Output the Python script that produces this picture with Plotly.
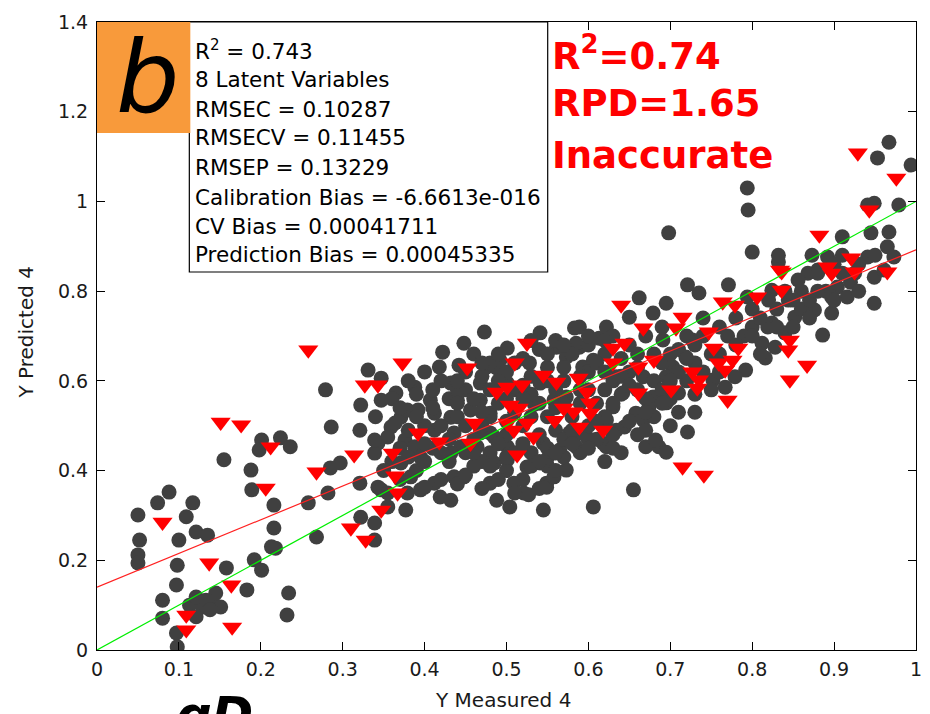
import plotly.graph_objects as go

# ---------------- data ----------------
# calibration samples (dark dots): Y Measured 4, Y Predicted 4
cal_x = [0.050,0.052,0.050,0.050,0.074,0.088,0.100,0.098,0.097,0.080,0.080,0.097,0.098,0.109,0.117,0.121,0.135,0.113,0.129,0.141,0.151,0.145,0.158,0.183,0.192,0.201,0.213,0.216,0.216,0.189,0.188,0.155,0.201,0.198,0.224,0.234,0.232,0.121,0.121,0.133,0.138,
         0.279,0.286,0.322,0.321,0.331,0.347,0.347,0.365,0.371,0.379,0.388,0.359,0.343,0.339,0.236,0.297,0.285,0.282,0.258,0.218,0.268,0.322,0.339,0.339,0.377,0.355,0.321,0.343,0.347,0.395,0.412,
         0.473,0.448,0.422,0.418,0.442,0.501,0.541,0.583,0.561,0.476,0.492,0.528,0.407,0.432,0.440,0.468,0.468,0.456,0.432,0.412,0.392,0.364,0.355,0.339,0.376,0.388,0.412,0.436,0.444,0.432,0.395,0.371,0.383,0.400,0.379,0.436,0.448,0.419,0.464,0.485,0.480,0.468,0.485,0.501,0.480,0.509,0.488,0.521,0.541,0.545,0.558,0.521,0.501,0.534,0.558,0.573,0.573,0.593,0.589,0.541,0.582,0.589,0.573,0.549,0.355,0.432,0.488,
         0.721,0.771,0.662,0.695,0.735,0.794,0.824,0.832,0.589,0.622,0.650,0.679,0.585,0.613,0.691,0.727,0.800,0.824,0.812,0.816,0.792,0.703,0.719,0.634,0.667,0.695,0.642,0.679,0.710,0.752,0.767,0.779,0.630,0.658,0.674,0.695,0.622,0.644,0.667,0.622,0.670,0.686,0.695,0.721,0.577,0.598,0.606,0.828,
         0.967,0.953,0.994,0.794,0.795,0.698,0.800,0.941,0.949,0.979,0.832,0.910,0.873,0.880,0.967,0.945,0.965,0.973,0.941,0.868,0.856,0.949,0.961,0.904,0.916,0.949,0.897,0.876,0.897,0.852,0.886,0.819,0.840,0.892,0.925,0.844,0.655,0.606,0.545,0.504,0.527,0.549,0.549,0.682,
         0.480,0.501,0.525,0.558,0.565,0.585,0.618,0.634,
         0.42,0.45,0.47,0.50,0.52,0.55,0.57,0.60,0.62,0.63,0.44,0.47,0.49,0.51,0.53,0.55,0.57,0.59,0.61,0.64,0.46,0.50,0.52,0.54,0.56,0.58,0.60,0.62,0.65,0.66,0.68,0.69,0.71,0.73,0.74,0.76,0.78,0.80,0.77,0.82,0.84,0.86,0.88,0.90,0.92,0.86,0.40,0.38,0.41,0.43,0.46,0.48,0.50,0.53,0.55,0.57,0.52,0.44,0.47,0.62,0.64,0.66,0.68,0.70,0.72,0.70,0.73,0.75,0.67,0.63,
         0.36,0.38,0.40,0.41,0.43,0.45,0.46,0.48,0.49,0.51,0.53,0.54,0.56,0.58,0.60,0.61,0.63,0.65,0.67,0.69,0.70,0.72,0.74,0.76,0.79,0.81,0.83,0.85,0.87,0.89,0.91,0.93,0.95,0.43,0.45,0.47,0.49,0.51,0.53,0.55,0.57,0.59,0.61,0.63,0.65,0.67,0.69,0.71,0.73,0.62,0.64,0.66,0.59,0.56,0.54,0.52,0.48,0.46,0.44,0.40,0.37,0.36,0.39,0.42,0.45,0.49,0.51,0.54,0.56,
         0.39,0.41,0.42,0.44,0.45,0.47,0.48,0.50,0.50,0.52,0.53,0.55,0.56,0.57,0.58,0.59,0.60,0.61,0.62,0.63,0.64,0.65,0.66,0.67,0.68,0.69,0.70,0.71,0.72,0.73,0.74,0.75,0.76,0.78,0.80,0.81,0.83,0.85,0.87,0.88,0.90,0.91,0.93,0.46,0.48,0.50,0.52,0.54,0.56,0.58,0.60,0.42,0.40,0.44,0.47,0.49,0.51,0.53,0.55,0.57,0.60,0.62,0.39,0.37,0.34,0.35,0.37,0.38]
cal_y = [0.301,0.245,0.212,0.194,0.328,0.352,0.245,0.189,0.145,0.111,0.071,0.038,0.007,0.297,0.328,0.263,0.256,0.100,0.096,0.111,0.096,0.127,0.183,0.134,0.201,0.178,0.230,0.272,0.323,0.357,0.401,0.424,0.468,0.446,0.473,0.127,0.078,0.074,0.118,0.111,0.090,
         0.580,0.497,0.546,0.490,0.624,0.606,0.557,0.573,0.519,0.535,0.586,0.497,0.461,0.439,0.453,0.417,0.406,0.350,0.328,0.227,0.252,0.296,0.283,0.245,0.312,0.319,0.372,0.363,0.357,0.357,0.372,
         0.709,0.684,0.664,0.631,0.635,0.673,0.707,0.718,0.675,0.631,0.646,0.640,0.557,0.595,0.557,0.595,0.557,0.535,0.519,0.528,0.535,0.506,0.475,0.468,0.468,0.453,0.490,0.484,0.453,0.439,0.430,0.417,0.386,0.363,0.350,0.386,0.386,0.341,0.453,0.475,0.528,0.484,0.417,0.424,0.372,0.372,0.334,0.350,0.417,0.461,0.439,0.580,0.595,0.548,0.557,0.564,0.653,0.631,0.675,0.595,0.475,0.446,0.401,0.372,0.350,0.334,0.629,
         0.814,0.814,0.785,0.773,0.796,0.787,0.802,0.865,0.720,0.720,0.742,0.751,0.684,0.695,0.691,0.691,0.720,0.729,0.684,0.651,0.624,0.631,0.653,0.609,0.609,0.609,0.573,0.564,0.573,0.602,0.586,0.609,0.542,0.528,0.542,0.551,0.513,0.497,0.513,0.453,0.453,0.453,0.441,0.486,0.484,0.475,0.646,0.675,
         1.132,1.097,1.081,1.030,0.981,0.930,0.887,0.992,0.996,0.992,0.880,0.921,0.880,0.847,0.932,0.930,0.899,0.876,0.876,0.840,0.825,0.831,0.847,0.809,0.787,0.773,0.787,0.758,0.751,0.742,0.702,0.720,0.707,0.876,0.840,0.780,0.357,0.319,0.312,0.319,0.346,0.363,0.424,0.468,
         0.484,0.453,0.408,0.386,0.446,0.453,0.461,0.490,
         0.60,0.58,0.61,0.62,0.65,0.63,0.60,0.62,0.66,0.60,0.52,0.50,0.55,0.53,0.57,0.52,0.55,0.58,0.55,0.57,0.47,0.48,0.50,0.48,0.49,0.52,0.50,0.52,0.62,0.66,0.60,0.64,0.67,0.64,0.70,0.72,0.74,0.76,0.70,0.78,0.80,0.80,0.84,0.86,0.82,0.76,0.50,0.49,0.45,0.42,0.41,0.44,0.40,0.44,0.41,0.43,0.38,0.37,0.36,0.42,0.44,0.48,0.52,0.56,0.60,0.50,0.53,0.58,0.56,0.48,
         0.56,0.60,0.62,0.58,0.56,0.62,0.66,0.64,0.60,0.58,0.61,0.67,0.69,0.66,0.68,0.64,0.70,0.68,0.70,0.72,0.66,0.70,0.74,0.66,0.70,0.74,0.76,0.72,0.78,0.80,0.84,0.86,0.88,0.47,0.44,0.42,0.46,0.44,0.41,0.45,0.47,0.44,0.47,0.45,0.51,0.53,0.58,0.62,0.57,0.58,0.61,0.58,0.61,0.58,0.55,0.56,0.52,0.56,0.58,0.46,0.45,0.42,0.40,0.38,0.39,0.38,0.35,0.36,0.40,
         0.52,0.54,0.50,0.55,0.50,0.53,0.58,0.56,0.51,0.59,0.52,0.60,0.54,0.63,0.49,0.55,0.58,0.51,0.62,0.55,0.65,0.59,0.63,0.49,0.66,0.55,0.60,0.53,0.65,0.68,0.62,0.66,0.62,0.68,0.70,0.66,0.72,0.78,0.74,0.80,0.78,0.88,0.80,0.44,0.41,0.43,0.46,0.42,0.44,0.46,0.45,0.44,0.42,0.60,0.64,0.66,0.64,0.69,0.66,0.68,0.70,0.69,0.57,0.54,0.52,0.40,0.38,0.43]

# validation samples (red triangles)
val_x = [0.151,0.176,0.212,0.206,0.080,0.137,0.164,0.109,0.109,0.165,
         0.258,0.373,0.327,0.343,0.314,0.268,0.361,0.364,0.367,0.347,0.310,0.328,
         0.525,0.510,0.452,0.545,0.561,0.588,0.488,0.501,0.519,0.504,0.515,0.570,0.582,0.461,0.501,0.525,0.559,0.509,0.533,0.589,0.392,0.418,0.456,0.513,
         0.640,0.715,0.707,0.667,0.764,0.779,0.806,0.834,0.747,0.644,0.630,0.630,0.680,0.661,0.753,0.783,0.759,0.776,0.767,0.727,0.735,0.733,0.598,0.602,0.602,0.618,0.661,0.701,0.770,0.715,0.741,
         0.929,0.976,0.943,0.882,0.892,0.897,0.921,0.925,0.965,0.836,0.836,0.846,0.844,0.867,0.846]
val_y = [0.508,0.502,0.453,0.361,0.285,0.194,0.145,0.078,0.045,0.051,
         0.669,0.640,0.591,0.591,0.435,0.397,0.439,0.388,0.350,0.312,0.272,0.245,
         0.684,0.640,0.629,0.613,0.597,0.606,0.575,0.586,0.591,0.546,0.539,0.539,0.531,0.506,0.506,0.506,0.512,0.490,0.475,0.497,0.484,0.464,0.461,0.435,
         0.769,0.742,0.718,0.718,0.776,0.769,0.787,0.847,0.709,0.684,0.673,0.640,0.646,0.631,0.673,0.673,0.640,0.646,0.624,0.620,0.602,0.584,0.575,0.551,0.528,0.490,0.573,0.580,0.557,0.408,0.390,
         1.108,1.052,0.981,0.925,0.854,0.840,0.874,0.843,0.843,0.843,0.802,0.691,0.669,0.635,0.602]

# reference lines
line_x = [0, 1]
target_y = [0, 1]          # 1:1 line (green)
fit_y = [0.14, 0.892]      # regression fit (red)

x_ticks = [0, 0.1, 0.2, 0.3, 0.4, 0.5, 0.6, 0.7, 0.8, 0.9, 1]
x_labels = ["0", "0.1", "0.2", "0.3", "0.4", "0.5", "0.6", "0.7", "0.8", "0.9", "1"]
y_ticks = [0, 0.2, 0.4, 0.6, 0.8, 1.0, 1.2, 1.4]
y_labels = ["0", "0.2", "0.4", "0.6", "0.8", "1", "1.2", "1.4"]

stats_lines = ["R<sup>2</sup> = 0.743", "8 Latent Variables", "RMSEC = 0.10287",
               "RMSECV = 0.11455", "RMSEP = 0.13229", "Calibration Bias = -6.6613e-016",
               "CV Bias = 0.00041711", "Prediction Bias = 0.00045335"]
red_lines = ["R<sup>2</sup>=0.74", "RPD=1.65", "Inaccurate"]

# ---------------- layout helpers (pixel -> paper) ----------------
L, R, T, B = 97, 922, 22, 650
W, H = 930, 714
def px(xp):
    return (xp - L) / (R - L)
def py(yp):
    return (B - yp) / (B - T)

fig = go.Figure()
fig.add_trace(go.Scatter(x=cal_x, y=cal_y, mode="markers",
                         marker=dict(symbol="circle", size=15, color="#404040", line=dict(width=0)),
                         showlegend=False))
fig.add_trace(go.Scatter(x=val_x, y=val_y, mode="markers",
                         marker=dict(symbol="triangle-down", size=17.5, color="#FF0000", line=dict(width=0)),
                         showlegend=False))
fig.add_trace(go.Scatter(x=line_x, y=target_y, mode="lines",
                         line=dict(color="#00EE00", width=1.2), showlegend=False))
fig.add_trace(go.Scatter(x=line_x, y=fit_y, mode="lines",
                         line=dict(color="#FF2020", width=1.2), showlegend=False))

tickfont = dict(family="DejaVu Sans", size=19, color="#1a1a1a")
fig.update_layout(
    width=W, height=H,
    margin=dict(l=L, r=W - R, t=T, b=H - B),
    paper_bgcolor="white", plot_bgcolor="white",
    xaxis=dict(range=[0, 1], tickvals=x_ticks, ticktext=x_labels, ticks="inside", ticklen=8,
               tickcolor="black", showline=True, linecolor="black", linewidth=1, mirror="ticks",
               showgrid=False, zeroline=False, tickfont=tickfont, ticklabelstandoff=2),
    yaxis=dict(range=[0, 1.4], tickvals=y_ticks, ticktext=y_labels, ticks="inside", ticklen=8,
               tickcolor="black", showline=True, linecolor="black", linewidth=1, mirror="ticks",
               showgrid=False, zeroline=False, tickfont=tickfont, ticklabelstandoff=4),
)

shapes = [
    # stats box
    dict(type="rect", xref="paper", yref="paper", x0=px(190), x1=px(551), y0=py(272), y1=py(22),
         line=dict(color="black", width=1.2), fillcolor="white", layer="above"),
    # orange label box
    dict(type="rect", xref="paper", yref="paper", x0=px(97), x1=px(191), y0=py(133), y1=py(22),
         line=dict(width=0), fillcolor="#F89A3B", layer="above"),
]
fig.update_layout(shapes=shapes)

ann = []
stat_centers = [50, 80, 109, 138, 168, 197, 226, 255]
for txt, yc in zip(stats_lines, stat_centers):
    ann.append(dict(text=txt, xref="paper", yref="paper", x=px(194), y=py(yc),
                    xanchor="left", yanchor="middle", showarrow=False,
                    font=dict(family="DejaVu Sans", size=21.5, color="black")))
red_centers = [54, 104, 155]
for txt, yc in zip(red_lines, red_centers):
    ann.append(dict(text=txt, xref="paper", yref="paper", x=px(553), y=py(yc),
                    xanchor="left", yanchor="middle", showarrow=False,
                    font=dict(family="DejaVu Sans", size=37, color="#FF0000", weight="bold")))
ann.append(dict(text="<i>b</i>", xref="paper", yref="paper", x=px(148), y=py(78),
                xanchor="center", yanchor="middle", showarrow=False,
                font=dict(family="DejaVu Sans", size=100, color="black")))
ann.append(dict(text="Y Measured 4", xref="paper", yref="paper", x=px(506), y=py(700),
                xanchor="center", yanchor="middle", showarrow=False,
                font=dict(family="DejaVu Sans", size=20, color="#1a1a1a")))
ann.append(dict(text="Y Predicted 4", xref="paper", yref="paper", x=px(25), y=py(332),
                xanchor="center", yanchor="middle", showarrow=False, textangle=-90,
                font=dict(family="DejaVu Sans", size=20, color="#1a1a1a")))
ann.append(dict(text="<i>gD</i>", xref="paper", yref="paper", x=px(215), y=py(715),
                xanchor="center", yanchor="middle", showarrow=False,
                font=dict(family="DejaVu Sans", size=50, color="black", weight="bold")))
fig.update_layout(annotations=ann)

fig.write_html("out.html", config={"displayModeBar": False},
               post_script="document.body.style.margin='0px';document.body.style.overflow='hidden';")
